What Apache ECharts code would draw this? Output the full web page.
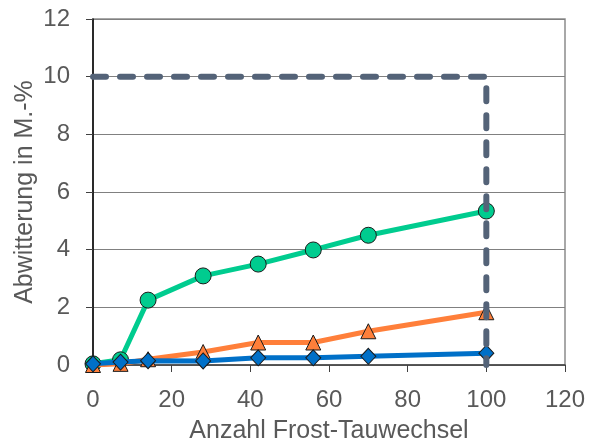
<!DOCTYPE html>
<html>
<head>
<meta charset="utf-8">
<script src="https://cdn.jsdelivr.net/npm/echarts@6/dist/echarts.min.js"></script>
<style>html,body{margin:0;padding:0;background:#fff}#c{width:589px;height:446px}</style>
</head>
<body>
<div id="c"></div>
<script>
const cycles = [0, 7, 14, 28, 42, 56, 70, 100];
const greenValues = [0.04, 0.18, 2.25, 3.09, 3.5, 3.99, 4.5, 5.34];
const orangeValues = [0.0, 0.04, 0.2, 0.45, 0.78, 0.78, 1.17, 1.83];
const blueValues = [0.04, 0.1, 0.15, 0.14, 0.25, 0.25, 0.3, 0.41];
const limitX = [0, 100, 100];
const limitY = [10, 10, 0];
const xTicks = [0, 20, 40, 60, 80, 100, 120];
const yTicks = [0, 2, 4, 6, 8, 10, 12];

const pair = (xs, ys) => xs.map((x, i) => [x, ys[i]]);
const font = 'Liberation Sans, Arial, sans-serif';
const txt = '#595959';

const chart = echarts.init(document.getElementById('c'), null, {renderer: 'canvas'});
chart.setOption({
  animation: false,
  grid: {left: 93, right: 24, top: 19, bottom: 81, show: true, borderColor: '#8c8c8c', borderWidth: 1.5, containLabel: false, outerBoundsMode: 'none'},
  xAxis: {
    type: 'value', min: xTicks[0], max: xTicks[xTicks.length - 1], interval: 20,
    name: 'Anzahl Frost-Tauwechsel', nameLocation: 'middle', nameGap: 54, nameMoveOverlap: false,
    nameTextStyle: {fontFamily: font, fontSize: 25, color: txt},
    axisLine: {show: true, lineStyle: {color: '#404040', width: 1.5}},
    axisTick: {show: true, length: 7, lineStyle: {color: '#404040'}},
    axisLabel: {fontFamily: font, fontSize: 24, color: txt, margin: 23},
    splitLine: {show: false}
  },
  yAxis: {
    type: 'value', min: yTicks[0], max: yTicks[yTicks.length - 1], interval: 2,
    name: 'Abwitterung in M.-%', nameLocation: 'middle', nameGap: 55, nameRotate: 90, nameMoveOverlap: false,
    nameTextStyle: {fontFamily: font, fontSize: 25, color: txt},
    axisLine: {show: true, lineStyle: {color: '#000', width: 1.5}},
    axisTick: {show: true, length: 7, lineStyle: {color: '#404040'}},
    axisLabel: {fontFamily: font, fontSize: 24, color: txt, margin: 23},
    splitLine: {show: true, lineStyle: {color: '#808080', width: 1}}
  },
  series: [
    {
      type: 'line', data: pair(cycles, greenValues), symbol: 'circle', symbolSize: 16,
      lineStyle: {color: '#00cc8f', width: 5}, itemStyle: {color: '#00cc8f', borderColor: '#1a1a1a', borderWidth: 1}, z: 3
    },
    {
      type: 'line', data: pair(cycles, orangeValues), symbol: 'triangle', symbolSize: 15,
      lineStyle: {color: '#ff7f3a', width: 5}, itemStyle: {color: '#ff7f3a', borderColor: '#1a1a1a', borderWidth: 1}, z: 4
    },
    {
      type: 'line', data: pair(cycles, blueValues), symbol: 'diamond', symbolSize: [15, 16],
      lineStyle: {color: '#0070c8', width: 5}, itemStyle: {color: '#0070c8', borderColor: '#1a1a1a', borderWidth: 1}, z: 5
    },
    {
      type: 'line', data: pair(limitX, limitY), symbol: 'none',
      lineStyle: {color: '#546378', width: 6, type: [13, 14], cap: 'round'}, z: 6
    }
  ]
});
</script>
</body>
</html>
